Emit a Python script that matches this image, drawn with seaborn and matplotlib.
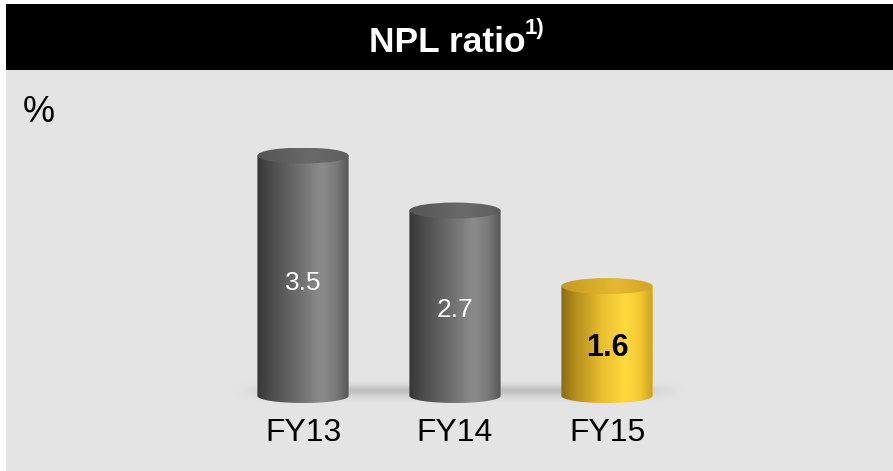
import numpy as np
import matplotlib
matplotlib.use("Agg")
import matplotlib.pyplot as plt
import seaborn as sns
from matplotlib.colors import LinearSegmentedColormap
from matplotlib.patches import Ellipse, PathPatch, Rectangle
from matplotlib.path import Path

# ---- data ----
categories = ["FY13", "FY14", "FY15"]
values = [3.5, 2.7, 1.6]
value_labels = ["3.5", "2.7", "1.6"]
title = "NPL ratio"
title_note = "1)"
unit_label = "%"

# ---- styles ----
bar_styles = ["gray", "gray", "yellow"]
label_colors = ["white", "white", "black"]
label_weights = ["normal", "normal", "bold"]
label_sizes = [19, 19, 22]

sns.set_theme(style="white")
plt.rcParams["font.family"] = ["Liberation Sans", "DejaVu Sans"]

W, H = 893, 471
BG = "#e4e4e4"
fig = plt.figure(figsize=(W / 100, H / 100), dpi=100)
fig.patch.set_facecolor("white")
fig.patches.append(Rectangle((6 / W, 0), 1 - 6 / W, 1 - 70 / H, transform=fig.transFigure,
                             facecolor=BG, edgecolor="none", zorder=-2))
fig.patches.append(Rectangle((6 / W, 1 - 70 / H), 1 - 6 / W, 66 / H, transform=fig.transFigure,
                             facecolor="black", edgecolor="none", zorder=-2))

px_per_unit = 68.7
base_px = 396
ymax = 4.5
ax_left, ax_width = 227, 456
ax = fig.add_axes([ax_left / W, (H - base_px) / H, ax_width / W, ymax * px_per_unit / H])
ax.set_facecolor("none")
ax.set_zorder(1)

cmaps_body = {
    "gray": LinearSegmentedColormap.from_list("gb", [
        (0.0, "#363636"), (0.12, "#484848"), (0.45, "#6e6e6e"),
        (0.70, "#8c8c8c"), (0.86, "#7a7a7a"), (1.0, "#565656")]),
    "yellow": LinearSegmentedColormap.from_list("yb", [
        (0.0, "#8a6a10"), (0.12, "#ad8818"), (0.45, "#eabf30"),
        (0.70, "#ffd93e"), (0.86, "#f3c832"), (1.0, "#cf9f20")]),
}
cmaps_top = {
    "gray": LinearSegmentedColormap.from_list("gt", [
        (0.0, "#555555"), (0.6, "#6a6a6a"), (1.0, "#5e5e5e")]),
    "yellow": LinearSegmentedColormap.from_list("yt", [
        (0.0, "#c49a22"), (0.6, "#e6b830"), (1.0, "#d2a428")]),
}
mid_colors = {"gray": "#6e6e6e", "yellow": "#eabf30"}

sns.barplot(x=categories, y=values, hue=categories,
            palette=[mid_colors[s] for s in bar_styles],
            width=0.6, saturation=1, legend=False, ax=ax, zorder=2,
            linewidth=0, edgecolor="none")

dy_per_px = 1.0 / px_per_unit
et = 8 * dy_per_px   # top ellipse half-height
eb = 7 * dy_per_px   # bottom ellipse half-height

grad = np.linspace(0, 1, 256).reshape(1, -1)

# soft floor shadow
nx, ny = 500, 60
xs = np.linspace(0, 1, nx)
ys = np.linspace(-1, 1, ny)
env = np.clip(xs / 0.14, 0, 1) * np.clip((1 - xs) / 0.14, 0, 1)
env = env ** 1.5
prof = np.exp(-(ys / 0.42) ** 2)
alpha = 0.34 * prof[:, None] * env[None, :]
shadow = np.zeros((ny, nx, 4))
shadow[..., :3] = 0.5
shadow[..., 3] = alpha
sh_c = 5 * dy_per_px
sh_h = 15 * dy_per_px
im_sh = ax.imshow(shadow, extent=(-0.5, 2.55, sh_c - sh_h, sh_c + sh_h), aspect="auto",
                  interpolation="bilinear", zorder=1)
im_sh.set_clip_box(fig.bbox)

patches = sorted(ax.patches, key=lambda p: p.get_x())
for i, p in enumerate(patches):
    x0, w, h = p.get_x(), p.get_width(), p.get_height()
    cx = x0 + w / 2
    style = bar_styles[i]
    p.set_visible(False)
    t = np.linspace(np.pi, 2 * np.pi, 60)
    arc = np.column_stack([cx + (w / 2) * np.cos(t), eb * np.sin(t)])
    verts = [(x0, h)] + [tuple(v) for v in arc] + [(x0 + w, h), (x0, h)]
    codes = [Path.MOVETO] + [Path.LINETO] * (len(verts) - 2) + [Path.CLOSEPOLY]
    body_clip = PathPatch(Path(verts, codes), transform=ax.transData)
    im = ax.imshow(grad, cmap=cmaps_body[style], extent=(x0, x0 + w, -eb, h),
                   aspect="auto", interpolation="bicubic", zorder=3)
    im.set_clip_box(fig.bbox)
    im.set_clip_path(body_clip)

    top_clip = Ellipse((cx, h), w, 2 * et, transform=ax.transData)
    imt = ax.imshow(grad, cmap=cmaps_top[style], extent=(x0, x0 + w, h - et, h + et),
                    aspect="auto", interpolation="bicubic", zorder=4)
    imt.set_clip_box(fig.bbox)
    imt.set_clip_path(top_clip)

    ax.text(cx, h / 2 - 0.1, value_labels[i], ha="center", va="center",
            color=label_colors[i], fontsize=label_sizes[i],
            fontweight=label_weights[i], zorder=6)

ax.set_xlim(-0.5, 2.5)
ax.set_ylim(0, ymax)
ax.set_xticks(range(len(categories)))
ax.set_xticklabels(categories, fontsize=23, color="black")
ax.tick_params(axis="x", length=0, pad=16)
ax.set_yticks([])
ax.set_xlabel("")
ax.set_ylabel("")
for s in ax.spines.values():
    s.set_visible(False)

# title with superscript note
renderer = fig.canvas.get_renderer()
t1 = fig.text(0, (H - 52) / H, title, fontsize=25.5, fontweight="bold", color="white",
              ha="left", va="baseline")
t2 = fig.text(0, (H - 34) / H, title_note, fontsize=16, fontweight="bold", color="white",
              ha="left", va="baseline")
w1 = t1.get_window_extent(renderer).width
w2 = t2.get_window_extent(renderer).width
start = 457 - (w1 + w2) / 2
t1.set_x(start / W)
t2.set_x((start + w1 - 1) / W)

fig.text(23 / W, (H - 122) / H, unit_label, fontsize=26, color="black",
         ha="left", va="baseline")

fig.savefig("out.png", dpi=100)
